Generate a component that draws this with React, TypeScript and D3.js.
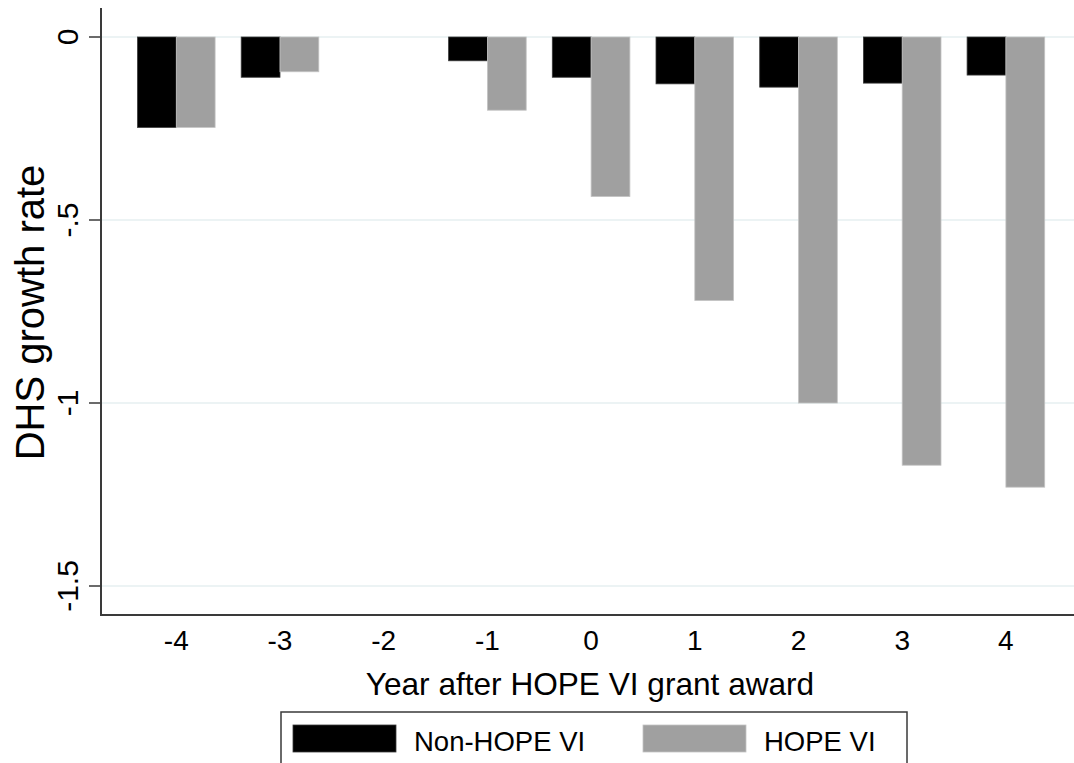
import React from "react";
import * as d3 from "d3";

const years = ["-4", "-3", "-2", "-1", "0", "1", "2", "3", "4"];
const nonHope: (number | null)[] = [-0.247, -0.11, null, -0.065, -0.11, -0.128, -0.137, -0.126, -0.104];
const hope: (number | null)[] = [-0.247, -0.095, null, -0.2, -0.436, -0.72, -1.0, -1.17, -1.23];
const yTicks = [0, -0.5, -1, -1.5];
const yTickLabels = ["0", "-.5", "-1", "-1.5"];
const seriesNames = ["Non-HOPE VI", "HOPE VI"];
const seriesColors = ["#000000", "#a0a0a0"];
const seriesStrokes = ["#3a3a3a", "#c4c4c4"];

const W = 1074;
const H = 763;
const FONT = "'Liberation Sans', Arial, Helvetica, sans-serif";

export default function App() {
  const x = d3.scalePoint<string>().domain(years).range([176.3, 1005.9]);
  const y = d3.scaleLinear().domain([0, -1.5]).range([37, 586]);
  const barW = 38.8;
  const axisX = 101;
  const axisY = 615;
  const series = [nonHope, hope];

  return (
    <svg width={W} height={H} style={{ position: "absolute", left: 0, top: 0, background: "#fff" }} fontFamily={FONT}>
      <rect x={0} y={0} width={W} height={H} fill="#fff" />
      {/* gridlines */}
      {yTicks.map((t) => (
        <line key={"g" + t} x1={axisX} x2={W} y1={y(t)} y2={y(t)} stroke="#e6eff0" strokeWidth={1.5} />
      ))}
      {/* bars */}
      {series.map((vals, si) =>
        vals.map((v, i) => {
          if (v === null) return null;
          const cx = x(years[i])!;
          const bx = si === 0 ? cx - barW : cx;
          const y0 = y(0);
          const y1 = y(v);
          return (
            <rect
              key={si + "-" + i}
              x={bx}
              y={Math.min(y0, y1)}
              width={barW}
              height={Math.abs(y1 - y0)}
              fill={seriesColors[si]}
              stroke={seriesStrokes[si]}
              strokeWidth={0.8}
            />
          );
        })
      )}
      {/* y axis */}
      <line x1={axisX} x2={axisX} y1={8} y2={axisY + 1} stroke="#3a3a3a" strokeWidth={2} />
      {yTicks.map((t, i) => (
        <g key={"t" + t}>
          <line x1={89} x2={axisX} y1={y(t)} y2={y(t)} stroke="#3a3a3a" strokeWidth={1.5} />
          <text
            transform={`translate(78,${y(t)}) rotate(-90)`}
            textAnchor="middle"
            fontSize={30}
            fill="#000"
          >
            {yTickLabels[i]}
          </text>
        </g>
      ))}
      <text transform={`translate(44,${(y(-0.5) + y(-1)) / 2 + 1}) rotate(-90)`} textAnchor="middle" fontSize={40} fill="#000">
        DHS growth rate
      </text>
      {/* x axis */}
      <line x1={axisX - 1} x2={W} y1={axisY} y2={axisY} stroke="#3a3a3a" strokeWidth={2} />
      {years.map((c) => (
        <text key={"x" + c} x={x(c)} y={650} textAnchor="middle" fontSize={28} fill="#000">
          {c}
        </text>
      ))}
      <text x={590} y={695} textAnchor="middle" fontSize={31.6} fill="#000">
        Year after HOPE VI grant award
      </text>
      {/* legend */}
      <rect x={281} y={712} width={626} height={60} fill="#fff" stroke="#3a3a3a" strokeWidth={1.5} />
      {seriesNames.map((n, i) => {
        const kx = i === 0 ? 293 : 643;
        return (
          <g key={"l" + n}>
            <rect x={kx} y={725} width={103} height={27} fill={seriesColors[i]} stroke={seriesStrokes[i]} strokeWidth={0.8} />
            <text x={kx + 121} y={751} fontSize={27.5} fill="#000">
              {n}
            </text>
          </g>
        );
      })}
    </svg>
  );
}
